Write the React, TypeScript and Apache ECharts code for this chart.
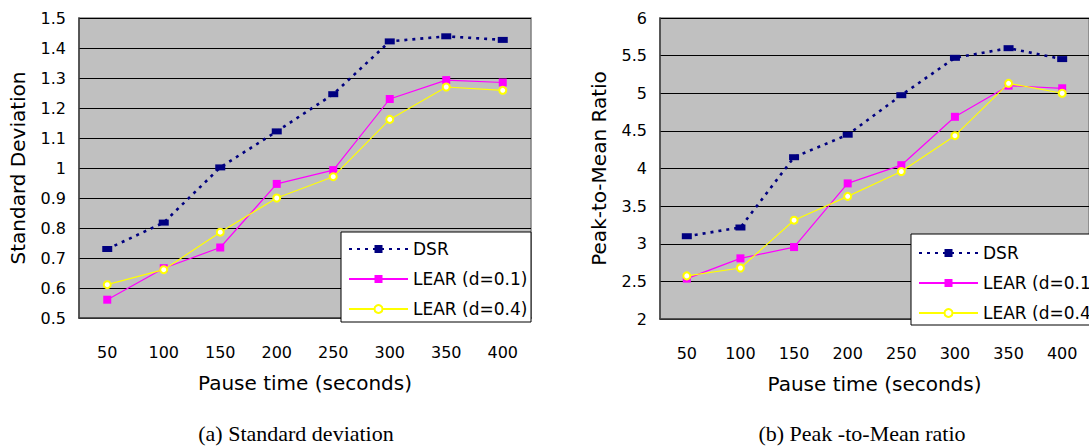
import React, { useEffect, useRef } from "react";
import * as echarts from "echarts";

const categories = ["50", "100", "150", "200", "250", "300", "350", "400"];

const sdDSR = [0.73, 0.818, 1.002, 1.122, 1.246, 1.422, 1.439, 1.427];
const sdLear01 = [0.561, 0.666, 0.735, 0.947, 0.993, 1.23, 1.293, 1.285];
const sdLear04 = [0.611, 0.661, 0.786, 0.9, 0.971, 1.162, 1.27, 1.259];

const pmDSR = [3.1, 3.216, 4.15, 4.449, 4.974, 5.471, 5.599, 5.454];
const pmLear01 = [2.537, 2.806, 2.956, 3.802, 4.044, 4.687, 5.101, 5.066];
const pmLear04 = [2.573, 2.678, 3.313, 3.63, 3.96, 4.436, 5.132, 5.0];

const seriesNames = ["DSR", "LEAR (d=0.1)", "LEAR (d=0.4)"];
const xTitle = "Pause time (seconds)";
const yTitles = ["Standard Deviation", "Peak-to-Mean Ratio"];
const captions = ["(a) Standard deviation", "(b) Peak -to-Mean ratio"];

const FONT = "DejaVu Sans";

function makeSeries(idx: number, data: number[][]) {
  return [
    {
      name: seriesNames[0],
      type: "line",
      xAxisIndex: idx,
      yAxisIndex: idx,
      data: data[0],
      symbol: "rect",
      symbolSize: [10, 6],
      itemStyle: { color: "#000080" },
      lineStyle: { color: "#000080", width: 2.6, type: [3, 5] },
      z: 3,
    },
    {
      name: seriesNames[1],
      type: "line",
      xAxisIndex: idx,
      yAxisIndex: idx,
      data: data[1],
      symbol: "rect",
      symbolSize: 8,
      itemStyle: { color: "#FF00FF" },
      lineStyle: { color: "#FF00FF", width: 1.2 },
      z: 4,
    },
    {
      name: seriesNames[2],
      type: "line",
      xAxisIndex: idx,
      yAxisIndex: idx,
      data: data[2],
      symbol: "emptyCircle",
      symbolSize: 7,
      itemStyle: { color: "#FFFF00", borderWidth: 1.2 },
      lineStyle: { color: "#FFFF00", width: 1.2 },
      z: 5,
    },
  ];
}

export default function App() {
  const ref = useRef<HTMLDivElement>(null);
  useEffect(() => {
    if (!ref.current) return;
    const chart = echarts.init(ref.current, undefined, { renderer: "svg" });
    const xAxisCommon = {
      type: "category",
      data: categories,
      boundaryGap: true,
      axisLine: { lineStyle: { color: "#404040", width: 1.5 } },
      axisTick: { inside: true, length: 6, lineStyle: { color: "#404040" } },
      axisLabel: { color: "#000", fontFamily: FONT, fontSize: 16, margin: 26 },
      name: xTitle,
      nameLocation: "middle",
      nameGap: 55,
      nameTextStyle: { color: "#000", fontFamily: FONT, fontSize: 20 },
      splitLine: { show: false },
    };
    const yAxisCommon = {
      type: "value",
      axisLine: { show: true, lineStyle: { color: "#404040", width: 1.5 } },
      axisTick: { show: false },
      axisLabel: { color: "#000", fontFamily: FONT, fontSize: 16, margin: 13 },
      nameLocation: "middle",
      nameGap: 51,
      nameTextStyle: { color: "#000", fontFamily: FONT, fontSize: 20 },
      splitLine: { show: true, lineStyle: { color: "#000", width: 1 } },
    };
    const legendCommon = {
      orient: "vertical",
      selectedMode: false,
      itemWidth: 59,
      itemHeight: 10,
      itemGap: 10,
      padding: 0,
      textStyle: { color: "#000", fontFamily: FONT, fontSize: 17, lineHeight: 20 },
      data: seriesNames,
      z: 12,
    };
    chart.setOption({
      animation: false,
      backgroundColor: "#fff",
      grid: [
        {
          left: 79,
          top: 18,
          width: 452,
          height: 300,
          show: true,
          backgroundColor: "#C0C0C0",
          borderColor: "#808080",
          borderWidth: 1.5,
        },
        {
          left: 660,
          top: 18,
          width: 438,
          height: 301,
          show: true,
          backgroundColor: "#C0C0C0",
          borderColor: "#808080",
          borderWidth: 1.5,
        },
      ],
      xAxis: [
        { ...xAxisCommon, gridIndex: 0 },
        { ...xAxisCommon, gridIndex: 1 },
      ],
      yAxis: [
        { ...yAxisCommon, gridIndex: 0, min: 0.5, max: 1.5, interval: 0.1, name: yTitles[0] },
        { ...yAxisCommon, gridIndex: 1, min: 2, max: 6, interval: 0.5, name: yTitles[1] },
      ],
      legend: [
        { ...legendCommon, left: 348, top: 239 },
        { ...legendCommon, left: 918, top: 243 },
      ],
      graphic: [
        {
          type: "rect",
          z: 10,
          shape: { x: 341, y: 232, width: 190, height: 90 },
          style: { fill: "#fff", stroke: "#000", lineWidth: 1 },
        },
        {
          type: "rect",
          z: 10,
          shape: { x: 911, y: 234, width: 200, height: 91 },
          style: { fill: "#fff", stroke: "#000", lineWidth: 1 },
        },
        {
          type: "text",
          x: 296,
          y: 433,
          style: {
            text: captions[0],
            fill: "#000",
            font: '22px "Liberation Serif"',
            textAlign: "center",
            textVerticalAlign: "middle",
          },
        },
        {
          type: "text",
          x: 862,
          y: 433,
          style: {
            text: captions[1],
            fill: "#000",
            font: '22px "Liberation Serif"',
            textAlign: "center",
            textVerticalAlign: "middle",
          },
        },
      ],
      series: [
        ...makeSeries(0, [sdDSR, sdLear01, sdLear04]),
        ...makeSeries(1, [pmDSR, pmLear01, pmLear04]),
      ],
    });
    return () => chart.dispose();
  }, []);
  return (
    <div
      ref={ref}
      style={{ position: "fixed", left: 0, top: 0, width: 1089, height: 446 }}
    />
  );
}
